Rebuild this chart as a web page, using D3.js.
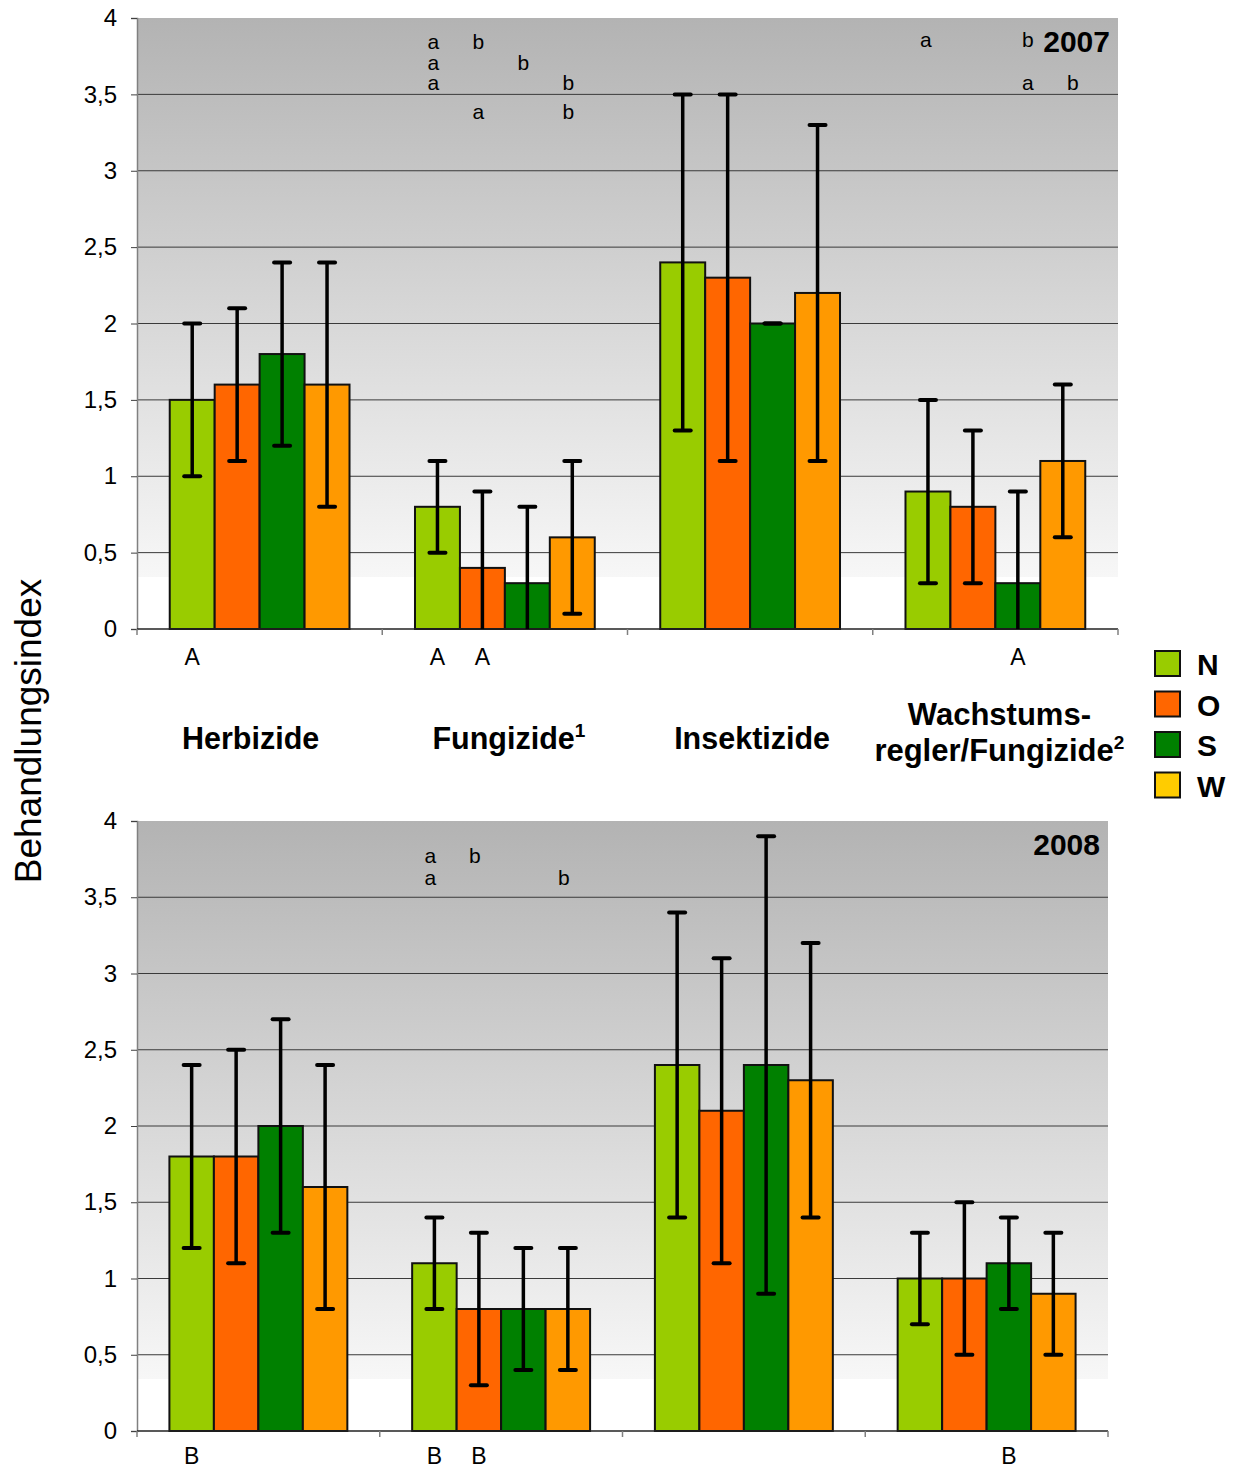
<!DOCTYPE html>
<html><head><meta charset="utf-8">
<script src="https://cdn.jsdelivr.net/npm/d3@7"></script>
<style>body{margin:0;background:#fff}svg{display:block}text{font-family:"Liberation Sans",Arial,sans-serif}</style>
</head><body>
<svg id="c" width="1234" height="1470"></svg>
<script>
const categories = ["Herbizide","Fungizide","Insektizide","Wachstumsregler/Fungizide"];
const series = ["N","O","S","W"];
const barColors = ["#99cc00","#ff6600","#008000","#ff9900"];
const legendColors = ["#99cc00","#ff6600","#008000","#ffcc00"];
const yTicks = [0,0.5,1,1.5,2,2.5,3,3.5,4];
const gridTicks = [0.5,1,1.5,2,2.5,3,3.5];

// 2007 values [category][series]
const val2007 = [[1.5,1.6,1.8,1.6],[0.8,0.4,0.3,0.6],[2.4,2.3,2.0,2.2],[0.9,0.8,0.3,1.1]];
const low2007 = [[1.0,1.1,1.2,0.8],[0.5,0.0,0.0,0.1],[1.3,1.1,2.0,1.1],[0.3,0.3,0.0,0.6]];
const high2007= [[2.0,2.1,2.4,2.4],[1.1,0.9,0.8,1.1],[3.5,3.5,2.0,3.3],[1.5,1.3,0.9,1.6]];
// 2008
const val2008 = [[1.8,1.8,2.0,1.6],[1.1,0.8,0.8,0.8],[2.4,2.1,2.4,2.3],[1.0,1.0,1.1,0.9]];
const low2008 = [[1.2,1.1,1.3,0.8],[0.8,0.3,0.4,0.4],[1.4,1.1,0.9,1.4],[0.7,0.5,0.8,0.5]];
const high2008= [[2.4,2.5,2.7,2.4],[1.4,1.3,1.2,1.2],[3.4,3.1,3.9,3.2],[1.3,1.5,1.4,1.3]];

// significance letters: [category, series, letter, level]
const upper2007 = [[1,0,"a",3.85],[1,1,"b",3.85],[1,0,"a",3.71],[1,2,"b",3.71],[1,0,"a",3.58],[1,3,"b",3.58],[1,1,"a",3.39],[1,3,"b",3.39],
                   [3,0,"a",3.86],[3,2,"b",3.86],[3,2,"a",3.58],[3,3,"b",3.58]];
const upper2008 = [[1,0,"a",3.78],[1,1,"b",3.78],[1,0,"a",3.63],[1,3,"b",3.63]];
const lower2007 = [[0,0,"A"],[1,0,"A"],[1,1,"A"],[3,2,"A"]];
const lower2008 = [[0,0,"B"],[1,0,"B"],[1,1,"B"],[3,2,"B"]];

const svg = d3.select("#c");
const defs = svg.append("defs");
const grad = defs.append("linearGradient").attr("id","bg").attr("x1",0).attr("y1",0).attr("x2",0).attr("y2",1);
grad.append("stop").attr("offset","0").attr("stop-color","#b3b3b3");
grad.append("stop").attr("offset","0.915").attr("stop-color","#f7f7f7");
grad.append("stop").attr("offset","0.915").attr("stop-color","#ffffff");
grad.append("stop").attr("offset","1").attr("stop-color","#ffffff");

function panel(cfg){
  const {x0,x1,yTop,yBot,vals,lows,highs,upper,lower,year,lowerDy,showCats} = cfg;
  const g = svg.append("g");
  const y = d3.scaleLinear().domain([0,4]).range([yBot,yTop]);
  const gx = d3.scaleBand().domain(categories).range([x0,x1]).paddingInner(0.267).paddingOuter(0.1335);
  const sx = d3.scaleBand().domain(series).range([0,gx.bandwidth()]).padding(0);

  g.append("rect").attr("x",x0).attr("y",yTop).attr("width",x1-x0).attr("height",yBot-yTop).attr("fill","url(#bg)");
  g.selectAll(".grid").data(gridTicks).join("line")
    .attr("x1",x0).attr("x2",x1).attr("y1",d=>y(d)).attr("y2",d=>y(d))
    .attr("stroke","#3a3a3a").attr("stroke-width",1);

  const ya = d3.axisLeft(y).tickValues(yTicks).tickSize(6).tickPadding(14).tickFormat(d=>String(d).replace(".",","));
  const yg = g.append("g").attr("transform",`translate(${x0},0)`).call(ya);
  yg.select(".domain").attr("stroke","#808080").attr("stroke-width",1.5);
  yg.selectAll(".tick line").attr("stroke","#404040");
  yg.selectAll("text").attr("font-size",24).attr("fill","#000").attr("font-family","Liberation Sans, Arial, sans-serif");

  const data = [];
  categories.forEach((c,i)=>series.forEach((s,j)=>data.push({c,s,i,j,v:vals[i][j],lo:lows[i][j],hi:highs[i][j]})));
  const cx = d => gx(d.c)+sx(d.s)+sx.bandwidth()/2;

  g.selectAll(".bar").data(data).join("rect")
    .attr("x",d=>gx(d.c)+sx(d.s)).attr("width",sx.bandwidth())
    .attr("y",d=>y(d.v)).attr("height",d=>y(0)-y(d.v))
    .attr("fill",d=>barColors[d.j]).attr("stroke","#111").attr("stroke-width",2);

  // x axis
  g.append("line").attr("x1",x0).attr("x2",x1).attr("y1",yBot).attr("y2",yBot).attr("stroke","#222").attr("stroke-width",1.5);
  const bounds = d3.range(categories.length+1).map(k=>x0+k*gx.step());
  g.selectAll(".xt").data(bounds).join("line").attr("x1",d=>d).attr("x2",d=>d).attr("y1",yBot).attr("y2",yBot+6)
    .attr("stroke","#808080").attr("stroke-width",1.5);

  // error bars
  const eb = g.selectAll(".eb").data(data).join("g");
  eb.append("line").attr("x1",cx).attr("x2",cx).attr("y1",d=>y(d.lo)).attr("y2",d=>y(d.hi)).attr("stroke","#000").attr("stroke-width",3.5);
  eb.append("line").attr("x1",d=>cx(d)-8).attr("x2",d=>cx(d)+8).attr("y1",d=>y(d.hi)).attr("y2",d=>y(d.hi))
    .attr("stroke","#000").attr("stroke-width",4).attr("stroke-linecap","round");
  eb.filter(d=>d.lo>0).append("line").attr("x1",d=>cx(d)-8).attr("x2",d=>cx(d)+8).attr("y1",d=>y(d.lo)).attr("y2",d=>y(d.lo))
    .attr("stroke","#000").attr("stroke-width",4).attr("stroke-linecap","round");

  const lx = (ci,si) => gx(categories[ci])+sx(series[si])+sx.bandwidth()/2;
  const shift = ci => ci===3 ? (cfg.wShift) : -4;
  g.selectAll(".up").data(upper).join("text")
    .attr("x",d=>lx(d[0],d[1])+shift(d[0])+(d[0]===3&&d[1]===0?-12:0)).attr("y",d=>y(d[3])+8).attr("text-anchor","middle")
    .attr("font-size",21).text(d=>d[2]);
  g.selectAll(".lo").data(lower).join("text")
    .attr("x",d=>lx(d[0],d[1])).attr("y",yBot+lowerDy).attr("text-anchor","middle")
    .attr("font-size",23).text(d=>d[2]);

  g.append("text").attr("x",x1-8).attr("y",yTop+34).attr("text-anchor","end")
    .attr("font-size",30).attr("font-weight","bold").text(year);

  if(showCats){
    const cy = yBot+120;
    const ct = (c)=>gx(c)+gx.bandwidth()/2;
    g.append("text").attr("x",ct(categories[0])-9).attr("y",cy).attr("text-anchor","middle").attr("font-size",30.5).attr("font-weight","bold").text("Herbizide");
    const f = g.append("text").attr("x",ct(categories[1])+4).attr("y",cy).attr("text-anchor","middle").attr("font-size",30.5).attr("font-weight","bold");
    f.append("tspan").text("Fungizide"); f.append("tspan").attr("dy",-12).attr("font-size",19).text("1");
    g.append("text").attr("x",ct(categories[2])+2).attr("y",cy).attr("text-anchor","middle").attr("font-size",30.5).attr("font-weight","bold").text("Insektizide");
    const w = g.append("text").attr("x",ct(categories[3])+4).attr("y",cy).attr("text-anchor","middle").attr("font-size",31).attr("font-weight","bold");
    w.append("tspan").attr("x",ct(categories[3])+4).attr("dy",-24).text("Wachstums-");
    w.append("tspan").attr("x",ct(categories[3])+4).attr("dy",36).text("regler/Fungizide");
    w.append("tspan").attr("dy",-12).attr("font-size",19).text("2");
  }
}

panel({x0:137,x1:1118,yTop:18,yBot:629,vals:val2007,lows:low2007,highs:high2007,upper:upper2007,lower:lower2007,year:"2007",lowerDy:36,wShift:10,showCats:true});
panel({x0:137,x1:1108,yTop:821,yBot:1431,vals:val2008,lows:low2008,highs:high2008,upper:upper2008,lower:lower2008,year:"2008",lowerDy:33,wShift:10,showCats:false});

// legend
const lg = svg.append("g").attr("transform","translate(1155,651)");
const li = lg.selectAll("g").data(series).join("g").attr("transform",(d,i)=>`translate(0,${i*40.5})`);
li.append("rect").attr("width",25).attr("height",25).attr("fill",(d,i)=>legendColors[i]).attr("stroke","#111").attr("stroke-width",2);
li.append("text").attr("x",42).attr("y",24).attr("font-size",30).attr("font-weight","bold").text(d=>d);

// y title
svg.append("text").attr("transform","translate(41,731) rotate(-90)").attr("text-anchor","middle")
  .attr("font-size",37).text("Behandlungsindex");
</script>
</body></html>
